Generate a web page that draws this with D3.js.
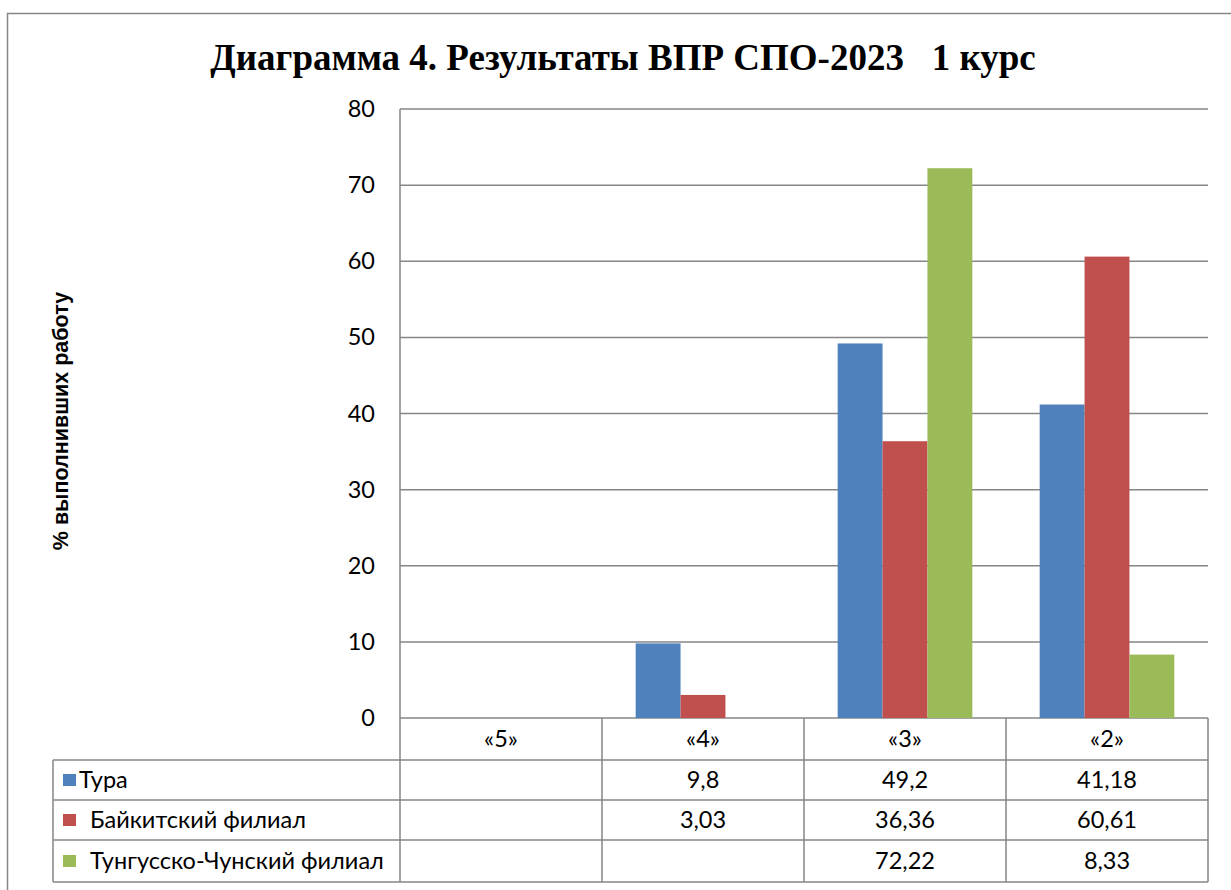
<!DOCTYPE html>
<html><head><meta charset="utf-8">
<script src="https://cdn.jsdelivr.net/npm/d3@7"></script>
<style>body{margin:0;background:#fff}svg{display:block}text{white-space:pre}</style>
</head><body>
<svg id="c" width="1231" height="890"></svg>
<script>
const categories = ["«5»", "«4»", "«3»", "«2»"];
const seriesNames = ["Тура", "Байкитский филиал", "Тунгусско-Чунский филиал"];
const tura = [null, 9.8, 49.2, 41.18];
const baikit = [null, 3.03, 36.36, 60.61];
const tungus = [null, null, 72.22, 8.33];
const tableLabels = [
  ["", "9,8", "49,2", "41,18"],
  ["", "3,03", "36,36", "60,61"],
  ["", "", "72,22", "8,33"]
];
const yTicks = [0, 10, 20, 30, 40, 50, 60, 70, 80];
const colors = ["#4F81BD", "#C0504D", "#9BBB59"];
const title = "Диаграмма 4. Результаты ВПР СПО-2023   1 курс";
const yTitle = "% выполнивших работу";

const series = [tura, baikit, tungus];
const svg = d3.select("#c");
const L = 400, R = 1208, T = 109, B = 718;
const x = d3.scaleBand().domain(categories).range([L, R]).paddingInner(0).paddingOuter(0);
const y = d3.scaleLinear().domain([0, 80]).range([B, T]);
const bw = x.bandwidth() / 4.5;
const xs = d3.scaleBand().domain(d3.range(3)).range([0, bw * 3]);
const tf = "Lato, 'Open Sans', sans-serif";
const fs = 23.5;

// outer border
svg.append("rect").attr("x", 7.5).attr("y", 13.5).attr("width", 1240).attr("height", 900)
  .attr("fill", "none").attr("stroke", "#868686").attr("stroke-width", 1.5);

// title
svg.append("text").attr("x", 623).attr("y", 70).attr("text-anchor", "middle")
  .attr("font-family", "'Liberation Serif', 'Times New Roman', serif").attr("font-weight", "bold")
  .attr("font-size", 37).attr("fill", "#000").text(title);

// gridlines
svg.append("g").selectAll("line").data(yTicks).join("line")
  .attr("x1", L).attr("x2", R).attr("y1", d => y(d)).attr("y2", d => y(d))
  .attr("stroke", "#868686").attr("stroke-width", 1.5);

// y axis
const yAxis = d3.axisLeft(y).tickValues(yTicks).tickSize(0).tickPadding(25);
const gy = svg.append("g").attr("transform", `translate(${L},0)`).call(yAxis);
gy.select(".domain").remove();
gy.selectAll("text").attr("font-family", tf).attr("font-size", fs).attr("fill", "#000");

// y title
svg.append("text").attr("transform", `translate(68,421) rotate(-90)`).attr("text-anchor", "middle")
  .attr("font-family", "'Liberation Sans', Arial, sans-serif").attr("font-weight", "bold")
  .attr("font-size", 21.5).attr("fill", "#000").text(yTitle);

// bars
series.forEach((vals, si) => {
  svg.append("g").selectAll("rect").data(categories.map((c, i) => ({c, v: vals[i]})).filter(d => d.v != null))
    .join("rect")
    .attr("x", d => x(d.c) + (x.bandwidth() - bw * 3) / 2 + xs(si))
    .attr("y", d => y(d.v)).attr("width", xs.bandwidth()).attr("height", d => y(0) - y(d.v))
    .attr("fill", colors[si]);
});

// table
const rowH = [718, 760, 800, 840, 882];
const tL = 53;
const g = svg.append("g").attr("stroke", "#868686").attr("stroke-width", 1.5);
g.append("line").attr("x1", L).attr("x2", L).attr("y1", T).attr("y2", rowH[4]);
categories.forEach(c => {
  g.append("line").attr("x1", x(c) + x.bandwidth()).attr("x2", x(c) + x.bandwidth()).attr("y1", rowH[0]).attr("y2", rowH[4]);
});
g.append("line").attr("x1", tL).attr("x2", tL).attr("y1", rowH[1]).attr("y2", rowH[4]);
rowH.slice(1).forEach(h => g.append("line").attr("x1", tL).attr("x2", R).attr("y1", h).attr("y2", h));

svg.append("g").selectAll("text").data(categories).join("text")
  .attr("x", d => x(d) + x.bandwidth() / 2).attr("y", (rowH[0] + rowH[1]) / 2 + 8)
  .attr("text-anchor", "middle").attr("font-family", tf).attr("font-size", fs).attr("fill", "#000").text(d => d);

tableLabels.forEach((row, ri) => {
  const cy = (rowH[ri + 1] + rowH[ri + 2]) / 2;
  svg.append("g").selectAll("text").data(row).join("text")
    .attr("x", (d, i) => x(categories[i]) + x.bandwidth() / 2).attr("y", cy + 8)
    .attr("text-anchor", "middle").attr("font-family", tf).attr("font-size", fs).attr("fill", "#000").text(d => d);
  svg.append("rect").attr("x", 63).attr("y", cy - 6).attr("width", 13).attr("height", 12).attr("fill", colors[ri]);
  svg.append("text").attr("x", ri === 0 ? 79 : 90).attr("y", cy + 8)
    .attr("font-family", tf).attr("font-size", fs).attr("fill", "#000").text(seriesNames[ri]);
});
</script>
</body></html>
